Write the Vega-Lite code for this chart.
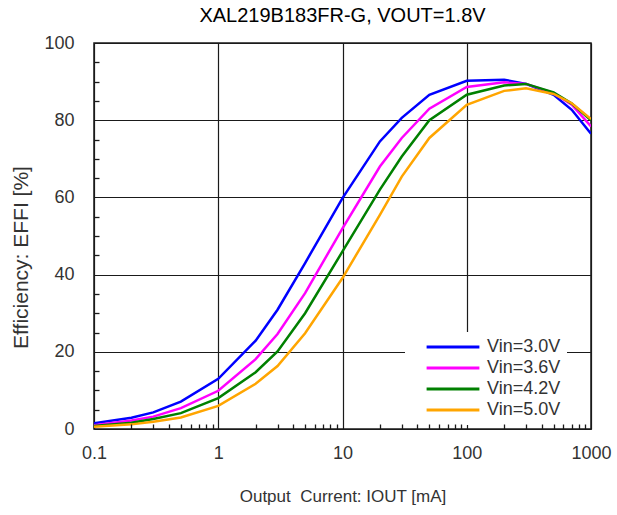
{
  "$schema": "https://vega.github.io/schema/vega-lite/v6.json",
  "autosize": "none",
  "width": 497,
  "height": 386,
  "padding": {"left": 94, "top": 43, "right": 26, "bottom": 86},
  "background": "white",
  "title": {
    "text": "XAL219B183FR-G, VOUT=1.8V",
    "font": "Liberation Sans",
    "fontSize": 20,
    "fontWeight": "normal",
    "color": "#000000",
    "offset": 8,
    "anchor": "middle"
  },
  "config": {
    "view": {"stroke": "#1a1a1a", "strokeWidth": 1.5},
    "axis": {
      "labelFont": "Liberation Sans",
      "titleFont": "Liberation Sans",
      "labelColor": "#333333",
      "titleColor": "#333333",
      "titleFontWeight": "normal",
      "domain": false,
      "gridColor": "#1a1a1a",
      "gridWidth": 1.2
    }
  },
  "data": {
    "values": [
      {"current": 0.1, "eff": 1.5, "vin": "Vin=3.0V"},
      {"current": 0.2, "eff": 2.9, "vin": "Vin=3.0V"},
      {"current": 0.3, "eff": 4.3, "vin": "Vin=3.0V"},
      {"current": 0.5, "eff": 7.1, "vin": "Vin=3.0V"},
      {"current": 1, "eff": 13.0, "vin": "Vin=3.0V"},
      {"current": 2, "eff": 22.9, "vin": "Vin=3.0V"},
      {"current": 3, "eff": 30.9, "vin": "Vin=3.0V"},
      {"current": 5, "eff": 43.0, "vin": "Vin=3.0V"},
      {"current": 10, "eff": 59.8, "vin": "Vin=3.0V"},
      {"current": 20, "eff": 74.5, "vin": "Vin=3.0V"},
      {"current": 30, "eff": 80.6, "vin": "Vin=3.0V"},
      {"current": 50, "eff": 86.6, "vin": "Vin=3.0V"},
      {"current": 100, "eff": 90.2, "vin": "Vin=3.0V"},
      {"current": 200, "eff": 90.5, "vin": "Vin=3.0V"},
      {"current": 300, "eff": 89.4, "vin": "Vin=3.0V"},
      {"current": 500, "eff": 86.6, "vin": "Vin=3.0V"},
      {"current": 700, "eff": 82.7, "vin": "Vin=3.0V"},
      {"current": 1000, "eff": 76.5, "vin": "Vin=3.0V"},

      {"current": 0.1, "eff": 1.0, "vin": "Vin=3.6V"},
      {"current": 0.2, "eff": 2.2, "vin": "Vin=3.6V"},
      {"current": 0.3, "eff": 3.2, "vin": "Vin=3.6V"},
      {"current": 0.5, "eff": 5.4, "vin": "Vin=3.6V"},
      {"current": 1, "eff": 9.9, "vin": "Vin=3.6V"},
      {"current": 2, "eff": 18.1, "vin": "Vin=3.6V"},
      {"current": 3, "eff": 24.6, "vin": "Vin=3.6V"},
      {"current": 5, "eff": 35.2, "vin": "Vin=3.6V"},
      {"current": 10, "eff": 52.0, "vin": "Vin=3.6V"},
      {"current": 20, "eff": 68.0, "vin": "Vin=3.6V"},
      {"current": 30, "eff": 75.4, "vin": "Vin=3.6V"},
      {"current": 50, "eff": 83.0, "vin": "Vin=3.6V"},
      {"current": 100, "eff": 88.6, "vin": "Vin=3.6V"},
      {"current": 200, "eff": 89.8, "vin": "Vin=3.6V"},
      {"current": 300, "eff": 89.4, "vin": "Vin=3.6V"},
      {"current": 500, "eff": 87.0, "vin": "Vin=3.6V"},
      {"current": 700, "eff": 84.0, "vin": "Vin=3.6V"},
      {"current": 1000, "eff": 78.4, "vin": "Vin=3.6V"},

      {"current": 0.1, "eff": 0.8, "vin": "Vin=4.2V"},
      {"current": 0.2, "eff": 1.6, "vin": "Vin=4.2V"},
      {"current": 0.3, "eff": 2.6, "vin": "Vin=4.2V"},
      {"current": 0.5, "eff": 4.1, "vin": "Vin=4.2V"},
      {"current": 1, "eff": 8.0, "vin": "Vin=4.2V"},
      {"current": 2, "eff": 14.7, "vin": "Vin=4.2V"},
      {"current": 3, "eff": 20.1, "vin": "Vin=4.2V"},
      {"current": 5, "eff": 30.0, "vin": "Vin=4.2V"},
      {"current": 10, "eff": 46.0, "vin": "Vin=4.2V"},
      {"current": 20, "eff": 62.0, "vin": "Vin=4.2V"},
      {"current": 30, "eff": 70.6, "vin": "Vin=4.2V"},
      {"current": 50, "eff": 80.0, "vin": "Vin=4.2V"},
      {"current": 100, "eff": 86.6, "vin": "Vin=4.2V"},
      {"current": 200, "eff": 89.0, "vin": "Vin=4.2V"},
      {"current": 300, "eff": 89.4, "vin": "Vin=4.2V"},
      {"current": 500, "eff": 87.2, "vin": "Vin=4.2V"},
      {"current": 700, "eff": 84.3, "vin": "Vin=4.2V"},
      {"current": 1000, "eff": 80.0, "vin": "Vin=4.2V"},

      {"current": 0.1, "eff": 0.6, "vin": "Vin=5.0V"},
      {"current": 0.2, "eff": 1.2, "vin": "Vin=5.0V"},
      {"current": 0.3, "eff": 1.9, "vin": "Vin=5.0V"},
      {"current": 0.5, "eff": 3.0, "vin": "Vin=5.0V"},
      {"current": 1, "eff": 6.0, "vin": "Vin=5.0V"},
      {"current": 2, "eff": 11.7, "vin": "Vin=5.0V"},
      {"current": 3, "eff": 16.3, "vin": "Vin=5.0V"},
      {"current": 5, "eff": 24.8, "vin": "Vin=5.0V"},
      {"current": 10, "eff": 39.1, "vin": "Vin=5.0V"},
      {"current": 20, "eff": 55.5, "vin": "Vin=5.0V"},
      {"current": 30, "eff": 65.4, "vin": "Vin=5.0V"},
      {"current": 50, "eff": 75.4, "vin": "Vin=5.0V"},
      {"current": 100, "eff": 84.0, "vin": "Vin=5.0V"},
      {"current": 200, "eff": 87.6, "vin": "Vin=5.0V"},
      {"current": 300, "eff": 88.3, "vin": "Vin=5.0V"},
      {"current": 500, "eff": 86.8, "vin": "Vin=5.0V"},
      {"current": 700, "eff": 84.4, "vin": "Vin=5.0V"},
      {"current": 1000, "eff": 80.3, "vin": "Vin=5.0V"}
    ]
  },
  "resolve": {"axis": {"x": "independent", "y": "independent"}},
  "layer": [
    {
      "mark": {"type": "point", "opacity": 0},
      "encoding": {
        "x": {
          "field": "current",
          "type": "quantitative",
          "scale": {"type": "log", "domain": [0.1, 1000], "nice": false},
          "axis": {
            "orient": "bottom",
            "title": null,
            "labels": false,
            "grid": false,
            "ticks": true,
            "tickSize": -5,
            "tickWidth": 1.3,
            "tickColor": "#1a1a1a",
            "zindex": 1,
            "values": [0.2, 0.3, 0.4, 0.5, 0.6, 0.7, 0.8, 0.9, 2, 3, 4, 5, 6, 7, 8, 9, 20, 30, 40, 50, 60, 70, 80, 90, 200, 300, 400, 500, 600, 700, 800, 900]
          }
        },
        "y": {
          "field": "eff",
          "type": "quantitative",
          "scale": {"domain": [0, 100], "nice": false},
          "axis": {
            "orient": "left",
            "title": null,
            "labels": false,
            "grid": false,
            "ticks": true,
            "tickSize": -5,
            "tickWidth": 1.3,
            "tickColor": "#1a1a1a",
            "zindex": 1,
            "values": [5, 10, 15, 25, 30, 35, 45, 50, 55, 65, 70, 75, 85, 90, 95]
          }
        }
      }
    },
    {
      "mark": {"type": "line", "strokeWidth": 2.5, "clip": true},
      "encoding": {
        "x": {
          "field": "current",
          "type": "quantitative",
          "scale": {"type": "log", "domain": [0.1, 1000], "nice": false},
          "axis": {
            "orient": "bottom",
            "title": "Output\u00a0\u00a0Current: IOUT [mA]",
            "titleFontSize": 17,
            "titlePadding": 26,
            "values": [0.1, 1, 10, 100, 1000],
            "format": "~g",
            "labelFontSize": 18,
            "labelFlush": false,
            "labelOverlap": false,
            "ticks": false,
            "labelPadding": 15,
            "grid": true,
            "zindex": 0
          }
        },
        "y": {
          "field": "eff",
          "type": "quantitative",
          "scale": {"domain": [0, 100], "nice": false},
          "axis": {
            "orient": "left",
            "title": "Efficiency: EFFI [%]",
            "titleFontSize": 21,
            "titlePadding": 12,
            "titleY": 214,
            "values": [0, 20, 40, 60, 80, 100],
            "labelFontSize": 18,
            "labelOverlap": false,
            "ticks": false,
            "labelPadding": 20,
            "grid": true,
            "zindex": 0
          }
        },
        "color": {
          "field": "vin",
          "type": "nominal",
          "scale": {
            "domain": ["Vin=3.0V", "Vin=3.6V", "Vin=4.2V", "Vin=5.0V"],
            "range": ["#0000ff", "#ff00ff", "#008000", "#ffa500"]
          },
          "legend": {
            "title": null,
            "orient": "none",
            "legendX": 311,
            "legendY": 289,
            "fillColor": "white",
            "padding": 6,
            "symbolType": "M-4.8,0H4.8",
            "symbolSize": 121,
            "symbolStrokeWidth": 3,
            "symbolOffset": 33,
            "labelFont": "Liberation Sans",
            "labelFontSize": 18,
            "labelColor": "#333333",
            "labelOffset": 25,
            "rowPadding": 3
          }
        }
      }
    }
  ]
}
